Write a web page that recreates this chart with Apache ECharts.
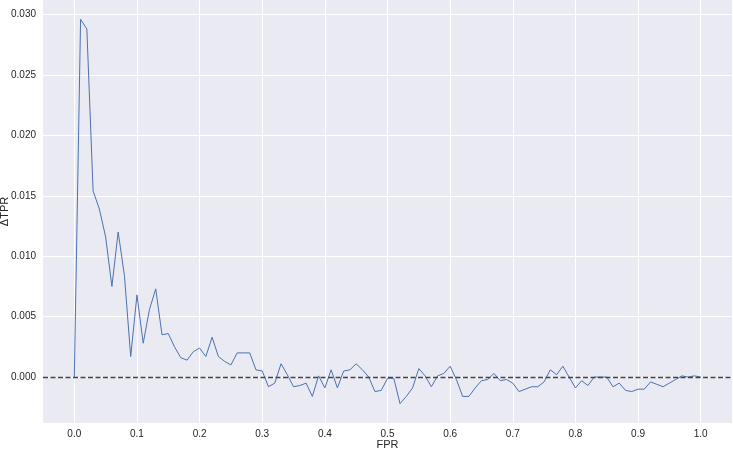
<!DOCTYPE html>
<html>
<head>
    <meta charset="utf-8">
    <script src="https://cdn.jsdelivr.net/npm/echarts@6/dist/echarts.min.js"></script>
    <style>
        html, body { margin: 0; padding: 0; background: #fff; }
    </style>
</head>
<body>
    <div id="main" style="width: 733px;height:449px;"></div>
    <script type="text/javascript">
        // FPR 取值
        var fpr = [0.00, 0.01, 0.02, 0.03, 0.04, 0.05, 0.06, 0.07, 0.08, 0.09,
            0.10, 0.11, 0.12, 0.13, 0.14, 0.15, 0.16, 0.17, 0.18, 0.19,
            0.20, 0.21, 0.22, 0.23, 0.24, 0.25, 0.26, 0.27, 0.28, 0.29,
            0.30, 0.31, 0.32, 0.33, 0.34, 0.35, 0.36, 0.37, 0.38, 0.39,
            0.40, 0.41, 0.42, 0.43, 0.44, 0.45, 0.46, 0.47, 0.48, 0.49,
            0.50, 0.51, 0.52, 0.53, 0.54, 0.55, 0.56, 0.57, 0.58, 0.59,
            0.60, 0.61, 0.62, 0.63, 0.64, 0.65, 0.66, 0.67, 0.68, 0.69,
            0.70, 0.71, 0.72, 0.73, 0.74, 0.75, 0.76, 0.77, 0.78, 0.79,
            0.80, 0.81, 0.82, 0.83, 0.84, 0.85, 0.86, 0.87, 0.88, 0.89,
            0.90, 0.91, 0.92, 0.93, 0.94, 0.95, 0.96, 0.97, 0.98, 0.99, 1.00];
        // ΔTPR 取值
        var dtpr = [0.0000, 0.0296, 0.0288, 0.0154, 0.0139, 0.0116, 0.0075, 0.0120, 0.0084, 0.0017,
            0.0068, 0.0028, 0.0056, 0.0073, 0.0035, 0.0036, 0.0025, 0.0016, 0.0014, 0.0021,
            0.0024, 0.0017, 0.0033, 0.0017, 0.0013, 0.0010, 0.0020, 0.0020, 0.0020, 0.0006,
            0.0005, -0.0008, -0.0005, 0.0011, 0.0002, -0.0008, -0.0007, -0.0005, -0.0016, 0.0001,
            -0.0009, 0.0006, -0.0009, 0.0005, 0.0006, 0.0011, 0.0006, 0.0000, -0.0012, -0.0011,
            -0.0001, -0.0001, -0.0022, -0.0016, -0.0009, 0.0007, 0.0001, -0.0008, 0.0001, 0.0003,
            0.0009, -0.0002, -0.0016, -0.0016, -0.0009, -0.0003, -0.0002, 0.0003, -0.0003, -0.0002,
            -0.0005, -0.0012, -0.0010, -0.0008, -0.0008, -0.0004, 0.0006, 0.0002, 0.0009, 0.0000,
            -0.0009, -0.0003, -0.0007, 0.0000, 0.0000, 0.0000, -0.0008, -0.0005, -0.0011, -0.0012,
            -0.0010, -0.0010, -0.0004, -0.0006, -0.0008, -0.0005, -0.0002, 0.0001, 0.0000, 0.0001, 0.0000];
        // 刻度
        var xTicks = [0.0, 0.1, 0.2, 0.3, 0.4, 0.5, 0.6, 0.7, 0.8, 0.9, 1.0];
        var yTicks = [0.000, 0.005, 0.010, 0.015, 0.020, 0.025, 0.030];

        var font = "'Liberation Sans', Arial, sans-serif";
        var points = fpr.map(function (x, i) { return [x, dtpr[i]]; });

        var myChart = echarts.init(document.getElementById('main'));
        myChart.setOption({
            animation: false,
            grid: {
                left: 43, right: 1, top: 0, bottom: 26,
                outerBoundsMode: 'none', containLabel: false,
                show: true, backgroundColor: '#EAEAF2', borderWidth: 0
            },
            xAxis: {
                type: 'value',
                min: -0.05, max: 1.05,
                name: 'FPR', nameLocation: 'middle', nameGap: 16, nameMoveOverlap: false,
                nameTextStyle: { color: '#262626', fontSize: 11, fontFamily: font },
                axisLine: { show: false },
                axisTick: { show: false, customValues: xTicks },
                axisLabel: {
                    customValues: xTicks, margin: 6,
                    color: '#262626', fontSize: 10, fontFamily: font,
                    formatter: function (v) { return v.toFixed(1); }
                },
                splitLine: { show: true, lineStyle: { color: '#fff', width: 1 } }
            },
            yAxis: {
                type: 'value',
                min: -0.0038, max: 0.0312,
                name: 'ΔTPR', nameLocation: 'middle', nameGap: 33, nameMoveOverlap: false,
                nameTextStyle: { color: '#262626', fontSize: 11, fontFamily: font },
                axisLine: { show: false },
                axisTick: { show: false, customValues: yTicks },
                axisLabel: {
                    customValues: yTicks, margin: 7,
                    color: '#262626', fontSize: 10, fontFamily: font,
                    formatter: function (v) { return v.toFixed(3); }
                },
                splitLine: { show: true, lineStyle: { color: '#fff', width: 1 } }
            },
            series: [{
                type: 'line',
                data: points,
                showSymbol: false,
                lineStyle: { color: '#4C72B0', width: 1 },
                markLine: {
                    silent: true,
                    symbol: 'none',
                    label: { show: false },
                    lineStyle: { color: '#444', width: 1.4, type: [5, 2.5] },
                    data: [{ yAxis: 0 }]
                }
            }]
        });
    </script>
</body>
</html>
